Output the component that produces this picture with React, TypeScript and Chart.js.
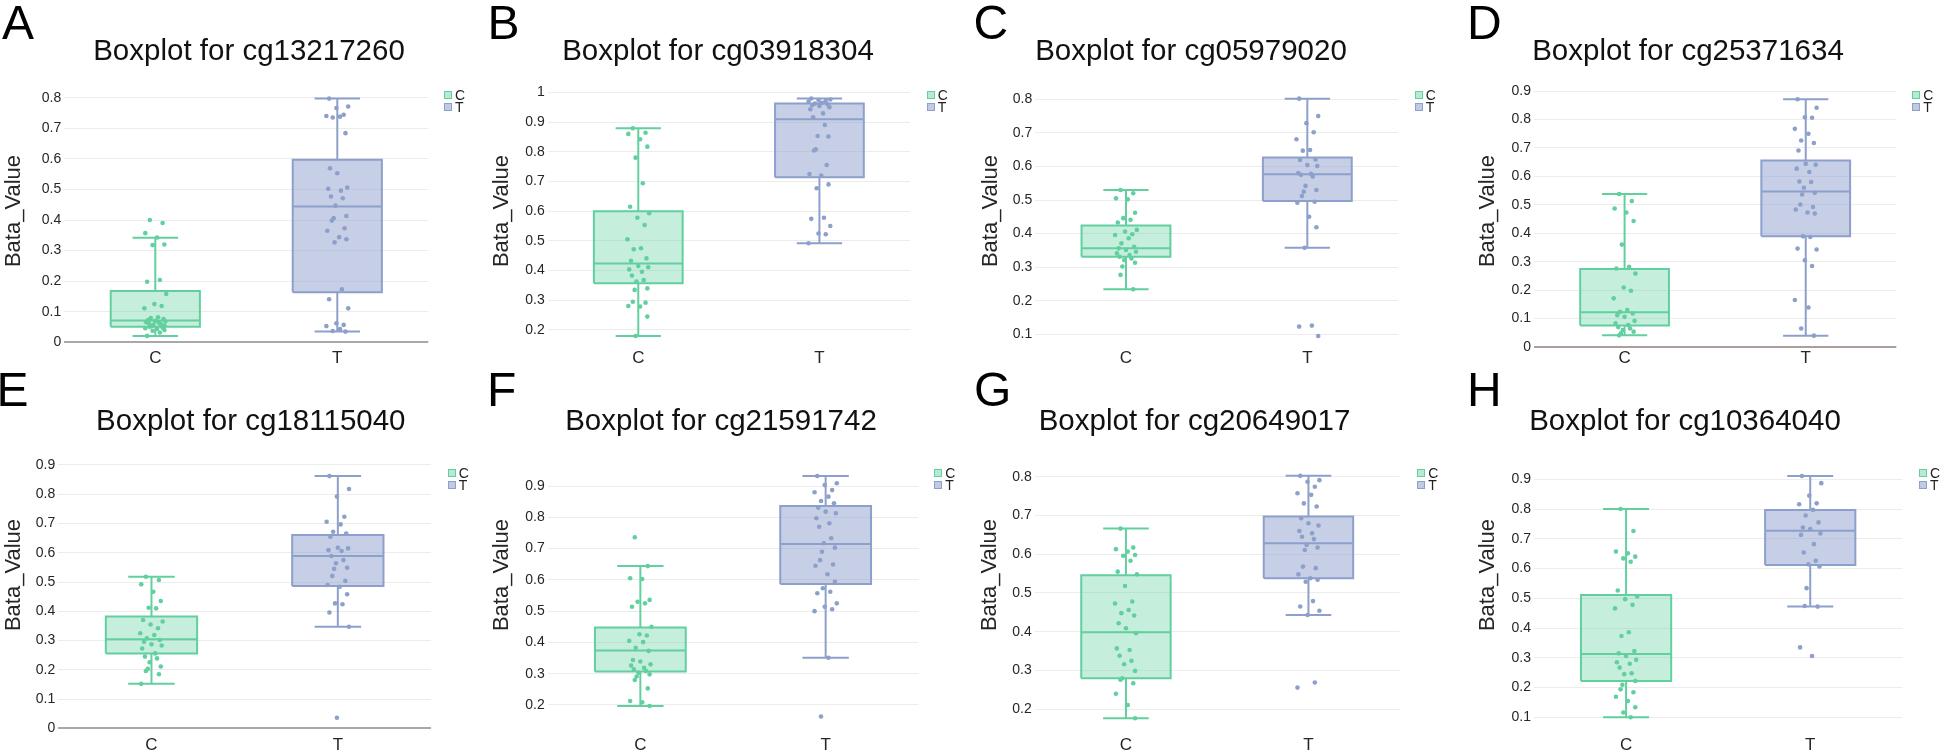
import React, { useEffect, useRef } from 'react';
import { Chart, registerables } from 'chart.js';

Chart.register(...registerables);

// ---------------- data ----------------
const CATEGORIES = ['C', 'T'];
const LETTERS = ['A', 'B', 'C', 'D', 'E', 'F', 'G', 'H'];
const PROBES = ['cg13217260', 'cg03918304', 'cg05979020', 'cg25371634', 'cg18115040', 'cg21591742', 'cg20649017', 'cg10364040'];
const Y_TITLE = 'Bata_Value';

// box stats: [lower whisker, q1, median, q3, upper whisker]
const A_C_BOX = [0.021, 0.051, 0.071, 0.168, 0.342];
const A_T_BOX = [0.035, 0.164, 0.444, 0.597, 0.797];
const A_C_PTS = [0.400, 0.390, 0.357, 0.343, 0.320, 0.318, 0.204, 0.198, 0.158, 0.125, 0.119, 0.111, 0.082, 0.079, 0.076, 0.073, 0.070, 0.068, 0.066, 0.064, 0.062, 0.060, 0.057, 0.055, 0.053, 0.051, 0.048, 0.046, 0.044, 0.040, 0.038, 0.032, 0.021];
const A_T_PTS = [0.797, 0.771, 0.766, 0.744, 0.740, 0.738, 0.735, 0.684, 0.569, 0.553, 0.506, 0.502, 0.496, 0.477, 0.471, 0.447, 0.413, 0.406, 0.398, 0.373, 0.365, 0.344, 0.337, 0.327, 0.173, 0.141, 0.111, 0.062, 0.057, 0.053, 0.043, 0.037, 0.035];
const A_TICKS = [0, 0.1, 0.2, 0.3, 0.4, 0.5, 0.6, 0.7, 0.8];
const A_RANGE = [-0.0186, 0.8775];

const B_C_BOX = [0.180, 0.357, 0.424, 0.600, 0.879];
const B_T_BOX = [0.492, 0.714, 0.909, 0.962, 0.979];
const B_C_PTS = [0.879, 0.864, 0.860, 0.842, 0.817, 0.780, 0.694, 0.615, 0.593, 0.578, 0.553, 0.505, 0.475, 0.472, 0.441, 0.433, 0.415, 0.411, 0.404, 0.396, 0.383, 0.368, 0.363, 0.340, 0.335, 0.295, 0.292, 0.281, 0.279, 0.245, 0.180];
const B_T_PTS = [0.979, 0.976, 0.974, 0.971, 0.969, 0.965, 0.962, 0.960, 0.957, 0.954, 0.950, 0.943, 0.929, 0.916, 0.890, 0.853, 0.851, 0.808, 0.804, 0.755, 0.725, 0.720, 0.690, 0.677, 0.578, 0.574, 0.550, 0.525, 0.522, 0.492];
const B_TICKS = [0.2, 0.3, 0.4, 0.5, 0.6, 0.7, 0.8, 0.9, 1];
const B_RANGE = [0.1394, 1.0616];

const C_C_BOX = [0.234, 0.331, 0.356, 0.424, 0.530];
const C_T_BOX = [0.358, 0.497, 0.577, 0.627, 0.802];
const C_C_PTS = [0.530, 0.520, 0.505, 0.502, 0.462, 0.446, 0.441, 0.433, 0.411, 0.406, 0.398, 0.396, 0.386, 0.371, 0.361, 0.356, 0.351, 0.346, 0.341, 0.336, 0.331, 0.326, 0.321, 0.313, 0.302, 0.277, 0.234];
const C_T_PTS = [0.802, 0.750, 0.729, 0.702, 0.681, 0.649, 0.647, 0.621, 0.619, 0.604, 0.601, 0.580, 0.578, 0.575, 0.570, 0.542, 0.530, 0.525, 0.512, 0.495, 0.492, 0.450, 0.419, 0.358, 0.126, 0.123, 0.095];
const C_TICKS = [0.1, 0.2, 0.3, 0.4, 0.5, 0.6, 0.7, 0.8];
const C_RANGE = [0.0592, 0.8754];

const D_C_BOX = [0.041, 0.076, 0.122, 0.274, 0.538];
const D_T_BOX = [0.040, 0.389, 0.547, 0.656, 0.871];
const D_C_PTS = [0.538, 0.513, 0.487, 0.473, 0.443, 0.360, 0.282, 0.276, 0.258, 0.209, 0.198, 0.171, 0.130, 0.124, 0.118, 0.112, 0.106, 0.092, 0.083, 0.077, 0.070, 0.065, 0.060, 0.054, 0.048, 0.041];
const D_T_PTS = [0.871, 0.841, 0.808, 0.806, 0.767, 0.750, 0.726, 0.717, 0.691, 0.644, 0.641, 0.627, 0.615, 0.582, 0.580, 0.560, 0.542, 0.536, 0.501, 0.492, 0.483, 0.473, 0.469, 0.389, 0.387, 0.346, 0.343, 0.305, 0.285, 0.165, 0.139, 0.065, 0.040];
const D_TICKS = [0, 0.1, 0.2, 0.3, 0.4, 0.5, 0.6, 0.7, 0.8, 0.9];
const D_RANGE = [-0.0035, 0.9598];

const E_C_BOX = [0.152, 0.256, 0.304, 0.382, 0.518];
const E_T_BOX = [0.347, 0.486, 0.589, 0.661, 0.862];
const E_C_PTS = [0.518, 0.507, 0.492, 0.467, 0.435, 0.412, 0.410, 0.370, 0.365, 0.355, 0.342, 0.325, 0.319, 0.308, 0.302, 0.296, 0.287, 0.283, 0.273, 0.256, 0.245, 0.239, 0.226, 0.211, 0.203, 0.196, 0.185, 0.152];
const E_T_PTS = [0.862, 0.818, 0.792, 0.723, 0.706, 0.697, 0.672, 0.666, 0.655, 0.617, 0.615, 0.609, 0.606, 0.589, 0.575, 0.564, 0.549, 0.545, 0.521, 0.504, 0.490, 0.484, 0.458, 0.427, 0.424, 0.396, 0.347, 0.036];
const E_TICKS = [0, 0.1, 0.2, 0.3, 0.4, 0.5, 0.6, 0.7, 0.8, 0.9];
const E_RANGE = [-0.0229, 1.0709];

const F_C_BOX = [0.197, 0.307, 0.374, 0.448, 0.644];
const F_T_BOX = [0.351, 0.587, 0.715, 0.836, 0.932];
const F_C_PTS = [0.736, 0.644, 0.605, 0.603, 0.536, 0.530, 0.525, 0.514, 0.450, 0.426, 0.422, 0.405, 0.401, 0.383, 0.373, 0.344, 0.339, 0.330, 0.326, 0.319, 0.314, 0.309, 0.303, 0.298, 0.291, 0.280, 0.253, 0.213, 0.209, 0.197];
const F_T_PTS = [0.932, 0.909, 0.903, 0.887, 0.880, 0.866, 0.852, 0.845, 0.831, 0.818, 0.813, 0.797, 0.781, 0.770, 0.733, 0.717, 0.703, 0.690, 0.663, 0.649, 0.645, 0.618, 0.594, 0.573, 0.562, 0.557, 0.525, 0.514, 0.506, 0.500, 0.351, 0.163];
const F_TICKS = [0.2, 0.3, 0.4, 0.5, 0.6, 0.7, 0.8, 0.9];
const F_RANGE = [0.1041, 1.127];

const G_C_BOX = [0.177, 0.280, 0.399, 0.546, 0.666];
const G_T_BOX = [0.443, 0.538, 0.628, 0.697, 0.802];
const G_C_PTS = [0.666, 0.617, 0.613, 0.607, 0.598, 0.596, 0.583, 0.555, 0.548, 0.518, 0.478, 0.473, 0.456, 0.448, 0.442, 0.422, 0.409, 0.396, 0.357, 0.353, 0.338, 0.325, 0.316, 0.299, 0.280, 0.276, 0.267, 0.240, 0.211, 0.177];
const G_T_PTS = [0.802, 0.791, 0.787, 0.774, 0.757, 0.753, 0.731, 0.723, 0.693, 0.680, 0.674, 0.660, 0.654, 0.645, 0.639, 0.624, 0.617, 0.611, 0.568, 0.564, 0.548, 0.538, 0.534, 0.529, 0.479, 0.465, 0.454, 0.443, 0.269, 0.256];
const G_TICKS = [0.2, 0.3, 0.4, 0.5, 0.6, 0.7, 0.8];
const G_RANGE = [0.1337, 0.959];

const H_C_BOX = [0.100, 0.222, 0.313, 0.511, 0.800];
const H_T_BOX = [0.472, 0.612, 0.727, 0.797, 0.911];
const H_C_PTS = [0.800, 0.726, 0.657, 0.651, 0.640, 0.634, 0.623, 0.526, 0.506, 0.497, 0.478, 0.466, 0.386, 0.373, 0.323, 0.315, 0.306, 0.293, 0.285, 0.280, 0.267, 0.248, 0.245, 0.222, 0.209, 0.194, 0.184, 0.169, 0.155, 0.134, 0.116, 0.100];
const H_T_PTS = [0.911, 0.887, 0.845, 0.819, 0.816, 0.797, 0.778, 0.755, 0.738, 0.733, 0.718, 0.713, 0.682, 0.654, 0.626, 0.614, 0.607, 0.534, 0.474, 0.472, 0.335, 0.306];
const H_TICKS = [0.1, 0.2, 0.3, 0.4, 0.5, 0.6, 0.7, 0.8, 0.9];
const H_RANGE = [0.0405, 1.116];

const PANELS = [
  { box: [A_C_BOX, A_T_BOX], pts: [A_C_PTS, A_T_PTS], ticks: A_TICKS, range: A_RANGE },
  { box: [B_C_BOX, B_T_BOX], pts: [B_C_PTS, B_T_PTS], ticks: B_TICKS, range: B_RANGE },
  { box: [C_C_BOX, C_T_BOX], pts: [C_C_PTS, C_T_PTS], ticks: C_TICKS, range: C_RANGE },
  { box: [D_C_BOX, D_T_BOX], pts: [D_C_PTS, D_T_PTS], ticks: D_TICKS, range: D_RANGE },
  { box: [E_C_BOX, E_T_BOX], pts: [E_C_PTS, E_T_PTS], ticks: E_TICKS, range: E_RANGE },
  { box: [F_C_BOX, F_T_BOX], pts: [F_C_PTS, F_T_PTS], ticks: F_TICKS, range: F_RANGE },
  { box: [G_C_BOX, G_T_BOX], pts: [G_C_PTS, G_T_PTS], ticks: G_TICKS, range: G_RANGE },
  { box: [H_C_BOX, H_T_BOX], pts: [H_C_PTS, H_T_PTS], ticks: H_TICKS, range: H_RANGE },
];

// ---------------- styles / layout ----------------
const FONT = '"Liberation Sans", Arial, Helvetica, sans-serif';
const TEXT = '#262626';
const GRID = '#ececec';
const STROKE = ['rgb(98,208,158)', 'rgb(141,160,203)'];
const FILL = ['rgba(98,208,158,0.36)', 'rgba(141,160,203,0.5)'];
const LEGEND_FILL = ['rgba(98,208,158,0.45)', 'rgba(141,160,203,0.55)'];
const BOX_HALF = 0.245;
const CAP_HALF = 0.125;
const JITTER = [-0.03, 0.04, -0.055, 0.01, 0.05, -0.015, 0.025, -0.045, 0.06, -0.005, 0.035, -0.06, 0.015, -0.025, 0.045, -0.04, 0.0, 0.055, -0.05, 0.02, -0.035, 0.03, -0.01, 0.05, -0.02];

const ROWS = [
  { y0: 0, h: 375, top: 74, bottom: 348, letterTop: -1.3, titleTop: 34.6, legendTop: 91 },
  { y0: 375, h: 380, top: 415, bottom: 735, letterTop: 366, titleTop: 404.6, legendTop: 468.5 },
];

const LAYOUT = [
  { x0: 0, w: 486, plotL: 64.3, plotR: 428.3, titleX: 249, yPad: 0.8, legendX: 444, letterX: 2, zero: '#a8a8a8' },
  { x0: 486, w: 487, plotL: 547.7, plotR: 910, titleX: 718, yPad: 2.8, legendX: 926.7, letterX: 487.5, zero: '#a8a8a8' },
  { x0: 973, w: 485, plotL: 1035.3, plotR: 1398, titleX: 1191, yPad: 4.3, legendX: 1414.7, letterX: 973.5, zero: '#a8a8a8' },
  { x0: 1458, w: 488, plotL: 1534, plotR: 1896.3, titleX: 1688, yPad: 16.8, legendX: 1912.3, letterX: 1467, zero: '#ae9d9d' },
  { x0: 0, w: 486, plotL: 58.3, plotR: 431, titleX: 250.8, yPad: 0.8, legendX: 447.7, letterX: -3.5, zero: '#a8a8a8' },
  { x0: 486, w: 487, plotL: 547.7, plotR: 918.3, titleX: 721, yPad: 2.8, legendX: 934.3, letterX: 487, zero: '#a8a8a8' },
  { x0: 973, w: 485, plotL: 1034.7, plotR: 1399.7, titleX: 1194.5, yPad: 3.8, legendX: 1417.3, letterX: 974, zero: '#a8a8a8' },
  { x0: 1458, w: 488, plotL: 1534, plotR: 1902.3, titleX: 1685, yPad: 16.8, legendX: 1919, letterX: 1467, zero: '#a8a8a8' },
];

function buildDatasets(p: any) {
  const datasets: any[] = [];
  [0, 1].forEach((g) => {
    const [lo, q1, med, q3, hi] = p.box[g];
    const s = STROKE[g];
    const line = (data: any[], extra: any = {}) => ({
      data,
      showLine: true,
      borderColor: s,
      borderWidth: 2,
      pointRadius: 0,
      pointHoverRadius: 0,
      fill: false,
      tension: 0,
      borderJoinStyle: 'miter',
      order: 2,
      ...extra,
    });
    // box fill between q1 and q3
    datasets.push(line([{ x: g - BOX_HALF, y: q3 }, { x: g + BOX_HALF, y: q3 }], {
      fill: { value: q1 }, backgroundColor: FILL[g], borderColor: 'rgba(0,0,0,0)', borderWidth: 0, order: 3,
    }));
    // box outline
    datasets.push(line([
      { x: g - BOX_HALF, y: q1 }, { x: g + BOX_HALF, y: q1 }, { x: g + BOX_HALF, y: q3 },
      { x: g - BOX_HALF, y: q3 }, { x: g - BOX_HALF, y: q1 },
    ]));
    // median
    datasets.push(line([{ x: g - BOX_HALF, y: med }, { x: g + BOX_HALF, y: med }]));
    // lower whisker + cap
    datasets.push(line([{ x: g, y: q1 }, { x: g, y: lo }, { x: g - CAP_HALF, y: lo }, { x: g + CAP_HALF, y: lo }]));
    // upper whisker + cap
    datasets.push(line([{ x: g, y: q3 }, { x: g, y: hi }, { x: g - CAP_HALF, y: hi }, { x: g + CAP_HALF, y: hi }]));
    // all points, jittered
    datasets.push({
      data: p.pts[g].map((y: number, i: number) => ({ x: g + JITTER[(i + g * 7) % JITTER.length], y })),
      showLine: false,
      pointRadius: 2.3,
      pointHoverRadius: 2.3,
      pointBackgroundColor: s,
      pointBorderWidth: 0,
      borderColor: s,
      order: 0,
    });
  });
  return datasets;
}

function Panel({ idx }: { idx: number }) {
  const ref = useRef<HTMLCanvasElement | null>(null);
  const L = LAYOUT[idx];
  const R = ROWS[Math.floor(idx / 4)];
  useEffect(() => {
    const p = PANELS[idx];
    const chart = new Chart(ref.current as HTMLCanvasElement, {
      type: 'line',
      data: { datasets: buildDatasets(p) },
      options: {
        responsive: false,
        animation: false,
        devicePixelRatio: 1,
        events: [],
        layout: { padding: { left: 0, top: R.top - R.y0, right: L.x0 + L.w - L.plotR, bottom: 0 } },
        plugins: { legend: { display: false }, tooltip: { enabled: false }, title: { display: false } },
        scales: {
          x: {
            type: 'linear',
            min: -0.5,
            max: 1.5,
            grid: { display: false, drawTicks: false },
            border: { display: false },
            afterBuildTicks: (s: any) => { s.ticks = CATEGORIES.map((_, i) => ({ value: i })); },
            afterFit: (s: any) => { s.height = R.y0 + R.h - R.bottom; },
            ticks: {
              callback: (v: any) => CATEGORIES[Math.round(Number(v))],
              font: { family: FONT, size: 17 },
              color: TEXT,
              padding: 0,
              maxRotation: 0,
              autoSkip: false,
            },
          },
          y: {
            type: 'linear',
            min: p.range[0],
            max: p.range[1],
            afterBuildTicks: (s: any) => { s.ticks = p.ticks.map((v: number) => ({ value: v })); },
            afterFit: (s: any) => { s.width = L.plotL - L.x0; },
            grid: {
              color: (c: any) => (c.tick && c.tick.value === 0 ? L.zero : GRID),
              lineWidth: (c: any) => (c.tick && c.tick.value === 0 ? 2 : 1),
              drawTicks: false,
            },
            border: { display: false },
            ticks: {
              callback: (v: any) => String(v),
              font: { family: FONT, size: 14 },
              color: TEXT,
              padding: 3,
              autoSkip: false,
            },
            title: {
              display: true,
              text: Y_TITLE,
              font: { family: FONT, size: 22 },
              color: TEXT,
              padding: { top: L.yPad, bottom: 0 },
            },
          },
        },
      } as any,
    });
    return () => chart.destroy();
  }, [idx]);

  return (
    <>
      <canvas
        ref={ref}
        width={L.w}
        height={R.h}
        style={{ position: 'absolute', left: L.x0, top: R.y0, width: L.w, height: R.h }}
      />
      <div style={{ position: 'absolute', left: L.letterX, top: R.letterTop, fontFamily: FONT, fontSize: 48, lineHeight: '48px', color: '#000' }}>
        {LETTERS[idx]}
      </div>
      <div style={{ position: 'absolute', left: L.titleX - 250, width: 500, top: R.titleTop, textAlign: 'center', fontFamily: FONT, fontSize: 29.5, lineHeight: '30px', color: '#111', whiteSpace: 'nowrap' }}>
        {'Boxplot for ' + PROBES[idx]}
      </div>
      <div style={{ position: 'absolute', left: L.legendX, top: R.legendTop - 2, fontFamily: FONT, fontSize: 14, lineHeight: '12px', color: '#222' }}>
        {CATEGORIES.map((c, g) => (
          <div key={c} style={{ display: 'flex', alignItems: 'center', height: 12 }}>
            <span style={{ display: 'inline-block', boxSizing: 'border-box', width: 8, height: 8, border: '1px solid ' + STROKE[g], background: LEGEND_FILL[g], marginRight: 3 }} />
            <span>{c}</span>
          </div>
        ))}
      </div>
    </>
  );
}

export default function App() {
  return (
    <div style={{ position: 'absolute', left: 0, top: 0, width: 1946, height: 755, overflow: 'hidden', background: '#fff' }}>
      {LETTERS.map((_, i) => (
        <Panel key={i} idx={i} />
      ))}
    </div>
  );
}
